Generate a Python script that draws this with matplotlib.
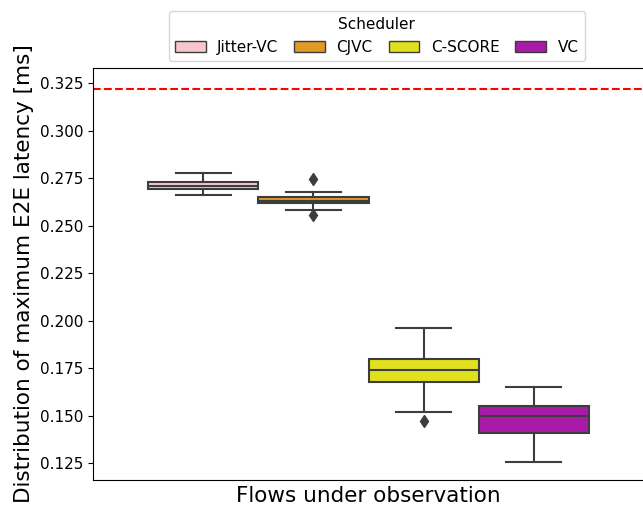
import matplotlib.pyplot as plt
from matplotlib.patches import Patch

schedulers = ["Jitter-VC", "CJVC", "C-SCORE", "VC"]
colors = ["#f7c6ce", "#e09a25", "#e0e01f", "#a91aa8"]

# box statistics of the maximum E2E latency per scheduler [ms]
whislo = [0.2661, 0.2582, 0.1518, 0.1255]
q1 = [0.2692, 0.2618, 0.1676, 0.1408]
med = [0.2708, 0.2629, 0.1739, 0.1497]
q3 = [0.2729, 0.2650, 0.1797, 0.1550]
whishi = [0.2776, 0.2676, 0.1960, 0.1650]
fliers = [[], [0.2745, 0.2555], [0.1471], []]

deadline = 0.3218

stats = []
for i, name in enumerate(schedulers):
    stats.append(dict(label=name, whislo=whislo[i], q1=q1[i], med=med[i],
                      q3=q3[i], whishi=whishi[i], fliers=fliers[i]))

fig = plt.figure(figsize=(6.43, 5.12), dpi=100)
ax = fig.add_axes([0.1446, 0.0625, 0.857, 0.8047])

line_col = "#3d3d3d"
positions = [-0.3, -0.1, 0.1, 0.3]
bp = ax.bxp(stats, positions=positions, widths=0.2, patch_artist=True,
            manage_ticks=False,
            boxprops=dict(edgecolor=line_col, linewidth=1.5),
            medianprops=dict(color=line_col, linewidth=1.5),
            whiskerprops=dict(color=line_col, linewidth=1.5),
            capprops=dict(color=line_col, linewidth=1.5),
            flierprops=dict(marker="d", markerfacecolor=line_col,
                            markeredgecolor=line_col, markersize=6))
for patch, c in zip(bp["boxes"], colors):
    patch.set_facecolor(c)

ax.axhline(deadline, color="red", linestyle="--", linewidth=1.5)

ax.set_xlim(-0.5, 0.5)
ax.set_ylim(0.1161, 0.3329)
ax.set_yticks([0.125, 0.150, 0.175, 0.200, 0.225, 0.250, 0.275, 0.300, 0.325])
ax.set_yticklabels([f"{v:.3f}" for v in ax.get_yticks()])
ax.set_xticks([])
ax.tick_params(axis="y", labelsize=11)
ax.set_xlabel("Flows under observation", fontsize=15.5)
ax.set_ylabel("Distribution of maximum E2E latency [ms]", fontsize=15.5)

handles = [Patch(facecolor=c, edgecolor=line_col, linewidth=1) for c in colors]
fig.legend(handles, schedulers, title="Scheduler", ncol=4, loc="upper center",
           bbox_to_anchor=(0.586, 0.993), fontsize=11, title_fontsize=11,
           handlelength=2.0, handletextpad=0.75, columnspacing=1.05)

fig.savefig("out.png", dpi=100)
